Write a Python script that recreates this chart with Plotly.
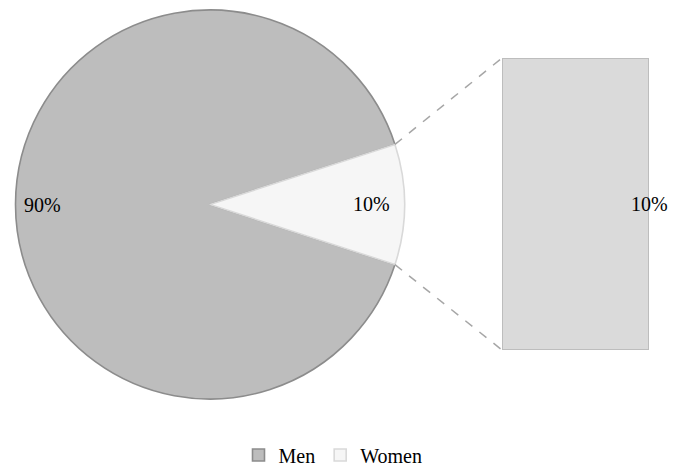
import math
import plotly.graph_objects as go

# ---- data ----
labels = ["Men", "Women"]
values = [90, 10]
pie_text = ["90%", "10%"]
bar_value = [10]
bar_text = "10%"

# ---- layout geometry (pixels) ----
W, H = 681, 466
FONT = "Liberation Serif, Times New Roman, serif"
pie_box = (15, 10, 405, 399)    # left, top, right, bottom
bar_box = (502, 58, 649, 350)

def px(x):
    return x / W

def py(y):
    return 1 - y / H

cx = (pie_box[0] + pie_box[2]) / 2
cy = (pie_box[1] + pie_box[3]) / 2
R = min(pie_box[2] - pie_box[0], pie_box[3] - pie_box[1]) / 2

total = sum(values)
women_frac = values[1] / total
# women slice centered at 3 o'clock (90 deg clockwise from top)
w_start = 90 - women_frac * 360 / 2
w_end = 90 + women_frac * 360 / 2
rotation = w_end  # Men starts right after the Women slice ends (clockwise)

fig = go.Figure()

fig.add_trace(go.Pie(
    labels=labels,
    values=values,
    sort=False,
    direction="clockwise",
    rotation=rotation,
    textinfo="none",
    hoverinfo="label+percent",
    marker=dict(colors=["#bdbdbd", "#f6f6f6"],
                line=dict(color=["#8c8c8c", "#d9d9d9"], width=1.6)),
    domain=dict(x=[px(pie_box[0]), px(pie_box[2])],
                y=[py(pie_box[3]), py(pie_box[1])]),
    showlegend=True,
))

fig.add_trace(go.Bar(
    x=[0], y=bar_value, width=1,
    marker=dict(color="#dadada", line=dict(color="#bdbdbd", width=2)),
    xaxis="x2", yaxis="y2", showlegend=False, hoverinfo="y",
))

# labels on the pie, placed by slice mid-angles
annotations = []
start = rotation
for lab, v, t in zip(labels, values, pie_text):
    span = v / total * 360
    mid = math.radians(start + span / 2)
    rr = 0.86 * R if v / total > 0.5 else 0.83 * R
    lx = cx + rr * math.sin(mid)
    ly = cy - rr * math.cos(mid)
    annotations.append(dict(x=px(lx), y=py(ly), xref="paper", yref="paper",
                            xanchor="center", yanchor="middle",
                            text=t, showarrow=False,
                            font=dict(family=FONT, size=20, color="#000")))
    start += span

annotations.append(dict(x=0.5, y=bar_value[0] / 2, xref="x2", yref="y2",
                        xanchor="center", yanchor="middle",
                        text=bar_text, showarrow=False,
                        font=dict(family=FONT, size=20, color="#000")))

# connector lines from slice edges to bar corners
shapes = []
for ang, by in [(w_start, bar_box[1]), (w_end, bar_box[3])]:
    a = math.radians(ang)
    x0 = cx + R * math.sin(a)
    y0 = cy - R * math.cos(a)
    shapes.append(dict(type="line", xref="paper", yref="paper",
                       x0=px(x0), y0=py(y0), x1=px(bar_box[0]), y1=py(by),
                       line=dict(color="#a6a6a6", width=1.5, dash="dash")))

fig.update_layout(
    width=W, height=H, autosize=False,
    margin=dict(l=0, r=0, t=0, b=0, autoexpand=False),
    paper_bgcolor="white", plot_bgcolor="white",
    font=dict(family=FONT, size=20, color="#000"),
    xaxis2=dict(domain=[px(bar_box[0]), px(bar_box[2])], range=[-0.5, 0.5],
                visible=False, anchor="y2", fixedrange=True),
    yaxis2=dict(domain=[py(bar_box[3]), py(bar_box[1])], range=[0, bar_value[0]],
                visible=False, anchor="x2", fixedrange=True),
    legend=dict(orientation="h", x=px(333), xanchor="center", y=py(455), yanchor="middle",
                font=dict(family=FONT, size=20), itemwidth=30,
                bgcolor="rgba(0,0,0,0)"),
    annotations=annotations,
    shapes=shapes,
)

fig.write_html("out.html")
